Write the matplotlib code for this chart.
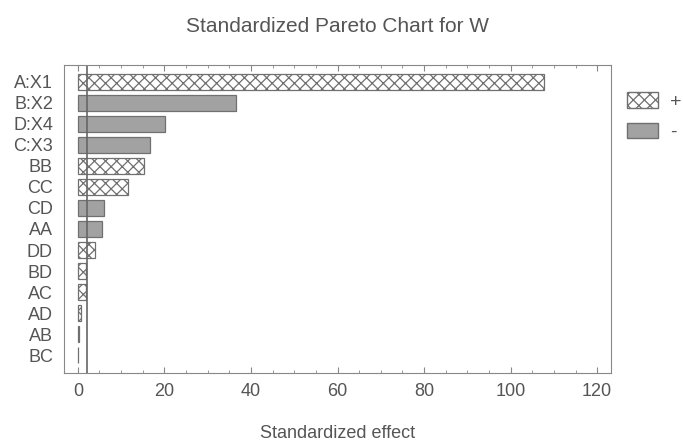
import matplotlib
matplotlib.use("Agg")
import matplotlib.pyplot as plt
from matplotlib.patches import Patch
from matplotlib.ticker import MultipleLocator

terms = ["A:X1", "B:X2", "D:X4", "C:X3", "BB", "CC", "CD", "AA", "DD", "BD", "AC", "AD", "AB", "BC"]
effects = [107.7, 36.5, 20.1, 16.6, 15.3, 11.6, 6.0, 5.5, 3.9, 1.8, 1.8, 0.8, 0.3, 0.1]
signs = ["+", "-", "-", "-", "+", "+", "-", "-", "+", "+", "+", "+", "-", "+"]
critical = 2.2
xticks = [0, 20, 40, 60, 80, 100, 120]

plt.rcParams['font.family'] = ['Liberation Sans', 'DejaVu Sans']
plt.rcParams['hatch.color'] = '#707070'
plt.rcParams['hatch.linewidth'] = 0.9
txt = '#555555'
gray = '#a2a2a2'
edge = '#707070'

fig = plt.figure(figsize=(6.83, 4.41), dpi=100)
ax = fig.add_axes([0.0937, 0.1542, 0.8009, 0.6984])

ypos = list(range(len(terms)))
for y, v, s in zip(ypos, effects, signs):
    if s == "+":
        ax.barh(y, v, height=0.75, color='white', edgecolor=edge, hatch='xxx', linewidth=0.9)
    else:
        ax.barh(y, v, height=0.75, color=gray, edgecolor=edge, linewidth=0.9)

ax.axvline(critical, color='#666666', linewidth=1.2)

ax.set_xlim(-3.2, 123.2)
ax.set_ylim(len(terms) - 0.15, -0.8)
ax.set_yticks(ypos)
ax.set_yticklabels(terms)
ax.set_xticks(xticks)
ax.xaxis.set_minor_locator(MultipleLocator(5))
ax.tick_params(axis='x', which='both', direction='in', top=True, bottom=True, colors='#888888', labelcolor=txt, labelsize=13, pad=7)
ax.tick_params(axis='x', which='major', length=4)
ax.tick_params(axis='x', which='minor', length=2)
ax.tick_params(axis='y', length=0, labelcolor=txt, labelsize=13, pad=8)
for sp in ax.spines.values():
    sp.set_color('#888888')

ax.set_title("Standardized Pareto Chart for W", color=txt, fontsize=15, pad=24)
ax.set_xlabel("Standardized effect", color=txt, fontsize=13, labelpad=18)

handles = [Patch(facecolor='white', edgecolor=edge, hatch='xxx', label='+'),
           Patch(facecolor=gray, edgecolor=edge, label='-')]
fig.legend(handles=handles, loc='upper left', bbox_to_anchor=(0.918, 0.791), frameon=False,
           borderpad=0, borderaxespad=0, handlelength=1.6, handleheight=0.85, handletextpad=0.6,
           fontsize=14, labelcolor=txt, labelspacing=0.62)

fig.savefig("out.png", dpi=100)
